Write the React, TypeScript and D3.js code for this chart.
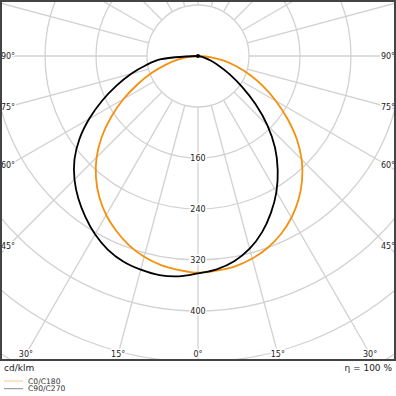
import React from "react";
import * as d3 from "d3";

// gamma angles (deg) from nadir
const gammas = [0, 5, 10, 15, 20, 25, 30, 35, 40, 45, 50, 55, 60, 65, 70, 75, 80, 85, 90];
// C0 (right half) / C180 (left half), cd/klm
const c0 = [340, 338, 335, 329, 320, 308, 293, 275, 254, 230, 202, 171, 141, 113, 87, 62, 40, 19, 0];
const c180 = [340, 337, 333, 326, 316, 303, 288, 270, 249, 225, 197, 166, 135, 104, 77, 52, 31, 14, 0];
// C90 (right half) / C270 (left half)
const c90 = [340, 336, 327, 313, 294, 271, 246, 218, 188, 154, 118, 84, 57, 36, 21, 11, 5, 1.5, 0];
const c270 = [341, 347, 349, 347, 343, 335, 323, 308, 292, 274, 253, 227, 197, 166, 136, 109, 83, 58, 0];

const ringValues = [80, 160, 240, 320, 400, 480, 560];
const ringLabels = [160, 240, 320, 400];
const spokeAngles = [0, 15, 30, 45, 60, 75, 90, 105, 120, 135, 150, 165, 180];
const angleLabels = [0, 15, 30, 45, 60, 75, 90];
const legendItems = ["C0/C180", "C90/C270"];

const W = 396;
const cx = 198;
const cy = 56;
const frame = { x0: 1, y0: 1, x1: 395, y1: 360 };
const FONT = "DejaVu Sans, sans-serif";

export default function App() {
  const r = d3.scaleLinear().domain([0, 80]).range([0, 51]);
  const toRad = (d: number) => (d * Math.PI) / 180;

  const buildPath = (right: number[], left: number[]) => {
    const pts: [number, number][] = [];
    for (let i = gammas.length - 1; i >= 0; i--) pts.push([Math.PI + toRad(gammas[i]), r(left[i])]);
    for (let i = 1; i < gammas.length; i++) pts.push([Math.PI - toRad(gammas[i]), r(right[i])]);
    return d3
      .lineRadial<[number, number]>()
      .angle((d) => d[0])
      .radius((d) => d[1])
      .curve(d3.curveCatmullRom.alpha(0.5))(pts) as string;
  };

  const pathC0 = buildPath(c0, c180);
  const pathC90 = buildPath(c90, c270);

  const rMax = 420;
  const spokes: { x1: number; y1: number; x2: number; y2: number }[] = [];
  spokeAngles.forEach((g) => {
    [1, -1].forEach((s) => {
      if ((g === 0 || g === 180) && s === -1) return;
      const a = toRad(g);
      spokes.push({
        x1: cx + s * r(80) * Math.sin(a),
        y1: cy + r(80) * Math.cos(a),
        x2: cx + s * rMax * Math.sin(a),
        y2: cy + rMax * Math.cos(a),
      });
    });
  });

  const inset = { x0: 8, x1: 388, y1: 354 };
  const labels: { x: number; y: number; t: string }[] = [];
  angleLabels.forEach((g) => {
    [1, -1].forEach((s) => {
      if (g === 0 && s === -1) return;
      const a = toRad(g);
      const dx = Math.sin(a);
      const dy = Math.cos(a);
      let t = Infinity;
      if (dx > 1e-9) t = Math.min(t, (s === 1 ? inset.x1 - cx : cx - inset.x0) / dx);
      if (dy > 1e-9) t = Math.min(t, (inset.y1 - cy) / dy);
      labels.push({ x: cx + s * t * dx, y: cy + t * dy, t: `${g}°` });
    });
  });

  return (
    <svg
      width={W}
      height={W}
      style={{ position: "fixed", left: 0, top: 0, background: "#fff" }}
      fontFamily={FONT}
    >
      <defs>
        <clipPath id="plotClip">
          <rect x={frame.x0} y={frame.y0} width={frame.x1 - frame.x0} height={frame.y1 - frame.y0} />
        </clipPath>
      </defs>
      <rect x={0} y={0} width={W} height={W} fill="#fff" />
      <g clipPath="url(#plotClip)">
        {ringValues.map((v) => (
          <circle key={v} cx={cx} cy={cy} r={r(v)} fill="none" stroke="#d2d2d2" strokeWidth={1.3} />
        ))}
        {spokes.map((s, i) => (
          <line key={i} x1={s.x1} y1={s.y1} x2={s.x2} y2={s.y2} stroke="#d2d2d2" strokeWidth={1.3} />
        ))}
        {ringLabels.map((v) => (
          <text
            key={v}
            x={cx}
            y={cy + r(v)}
            dy="0.35em"
            textAnchor="middle"
            fontSize={8}
            fill="#222"
            stroke="#fff"
            strokeWidth={3}
            paintOrder="stroke"
          >
            {v}
          </text>
        ))}
        {labels.map((l, i) => (
          <text
            key={i}
            x={l.x}
            y={l.y}
            dy="0.35em"
            textAnchor="middle"
            fontSize={8}
            fill="#222"
            stroke="#fff"
            strokeWidth={3}
            paintOrder="stroke"
          >
            {l.t}
          </text>
        ))}
        <g transform={`translate(${cx},${cy})`}>
          <path d={pathC0} fill="none" stroke="#f5900f" strokeWidth={1.8} />
          <path d={pathC90} fill="none" stroke="#000" strokeWidth={1.8} />
          <circle cx={0} cy={0} r={2} fill="#000" />
        </g>
      </g>
      <rect
        x={frame.x0}
        y={frame.y0}
        width={frame.x1 - frame.x0}
        height={frame.y1 - frame.y0}
        fill="none"
        stroke="#444"
        strokeWidth={2}
      />
      <text x={4} y={371} fontSize={9} fill="#222">cd/klm</text>
      <text x={392} y={371} fontSize={9} fill="#222" textAnchor="end">η = 100 %</text>
      {legendItems.map((t, i) => (
        <g key={t}>
          <line
            x1={4}
            x2={23}
            y1={381 + i * 7.7}
            y2={381 + i * 7.7}
            stroke={i === 0 ? "#ffc58a" : "#8a8a8a"}
            strokeWidth={1}
          />
          <text x={28} y={381 + i * 7.7} dy="0.35em" fontSize={7.6} fill="#333">
            {t}
          </text>
        </g>
      ))}
    </svg>
  );
}
